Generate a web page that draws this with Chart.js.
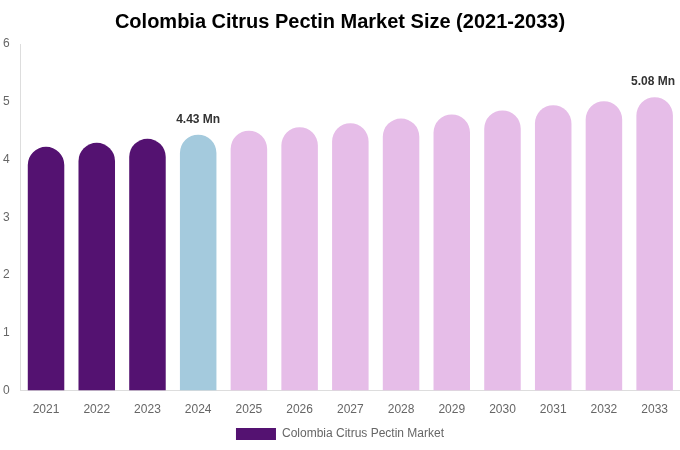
<!DOCTYPE html>
<html>
<head>
<meta charset="utf-8">
<script src="https://cdn.jsdelivr.net/npm/chart.js@4.4.1/dist/chart.umd.min.js"></script>
<style>
  html, body { margin: 0; padding: 0; background: #fff; }
  #wrap { width: 680px; height: 450px; position: relative; }
</style>
</head>
<body>
<div id="wrap"><canvas id="myChart"></canvas></div>
<script>
// Chart data
const years = ['2021', '2022', '2023', '2024', '2025', '2026', '2027', '2028', '2029', '2030', '2031', '2032', '2033'];
const marketSize = [4.22, 4.29, 4.36, 4.43, 4.50, 4.56, 4.63, 4.71, 4.78, 4.85, 4.94, 5.01, 5.08];
const yTicks = [0, 1, 2, 3, 4, 5, 6];
const labelledYears = ['2024', '2033'];

// Colours: history, base year, forecast
function barColor(year) {
    if (year < '2024') return '#541271';
    if (year === '2024') return '#a4cadd';
    return '#e6bde8';
}

// Draw "x.xx Mn" above selected bars
const valueLabels = {
    id: 'valueLabels',
    afterDatasetsDraw(chart) {
        const ctx = chart.ctx;
        const meta = chart.getDatasetMeta(0);
        ctx.save();
        ctx.font = 'bold 12px "Liberation Sans", Arial, sans-serif';
        ctx.fillStyle = '#333333';
        ctx.textAlign = 'center';
        ctx.textBaseline = 'bottom';
        meta.data.forEach((bar, i) => {
            if (!labelledYears.includes(years[i])) return;
            let x = bar.x;
            const text = marketSize[i].toFixed(2) + ' Mn';
            const w = ctx.measureText(text).width;
            if (x + w / 2 > chart.width - 5) x = chart.width - 5 - w / 2;
            ctx.fillText(text, x, bar.y - 9);
        });
        ctx.restore();
    }
};

const ctx = document.getElementById('myChart').getContext('2d');
new Chart(ctx, {
    type: 'bar',
    data: {
        labels: years,
        datasets: [{
            label: 'Colombia Citrus Pectin Market',
            data: marketSize,
            backgroundColor: years.map(barColor),
            borderRadius: 20,
            borderSkipped: 'bottom'
        }]
    },
    options: {
        responsive: true,
        maintainAspectRatio: false,
        animation: false,
        layout: { padding: { left: 0, right: 0, top: 0, bottom: 0 } },
        scales: {
            x: {
                grid: { display: false },
                border: { color: '#dddddd' },
                ticks: { color: '#666666', font: { size: 12, family: '"Liberation Sans", Arial, sans-serif' }, padding: 4 }
            },
            y: {
                min: 0,
                max: 6,
                afterBuildTicks: (axis) => { axis.ticks = yTicks.map(v => ({ value: v })); },
                grid: { display: false },
                border: { color: '#dddddd' },
                ticks: { color: '#666666', font: { size: 12, family: '"Liberation Sans", Arial, sans-serif' }, padding: 3 }
            }
        },
        plugins: {
            title: {
                display: true,
                text: 'Colombia Citrus Pectin Market Size (2021-2033)',
                color: '#000000',
                font: { size: 20, weight: 'bold', family: '"Liberation Sans", Arial, sans-serif' },
                padding: { top: 10, bottom: 10 }
            },
            legend: {
                position: 'bottom',
                labels: {
                    color: '#666666',
                    boxWidth: 40,
                    boxHeight: 12,
                    padding: 7,
                    font: { size: 12, family: '"Liberation Sans", Arial, sans-serif' },
                    generateLabels: () => [{
                        text: 'Colombia Citrus Pectin Market',
                        fillStyle: '#541271',
                        strokeStyle: '#541271',
                        lineWidth: 0,
                        fontColor: '#666666'
                    }]
                }
            },
            tooltip: { enabled: false }
        }
    },
    plugins: [valueLabels]
});
</script>
</body>
</html>
